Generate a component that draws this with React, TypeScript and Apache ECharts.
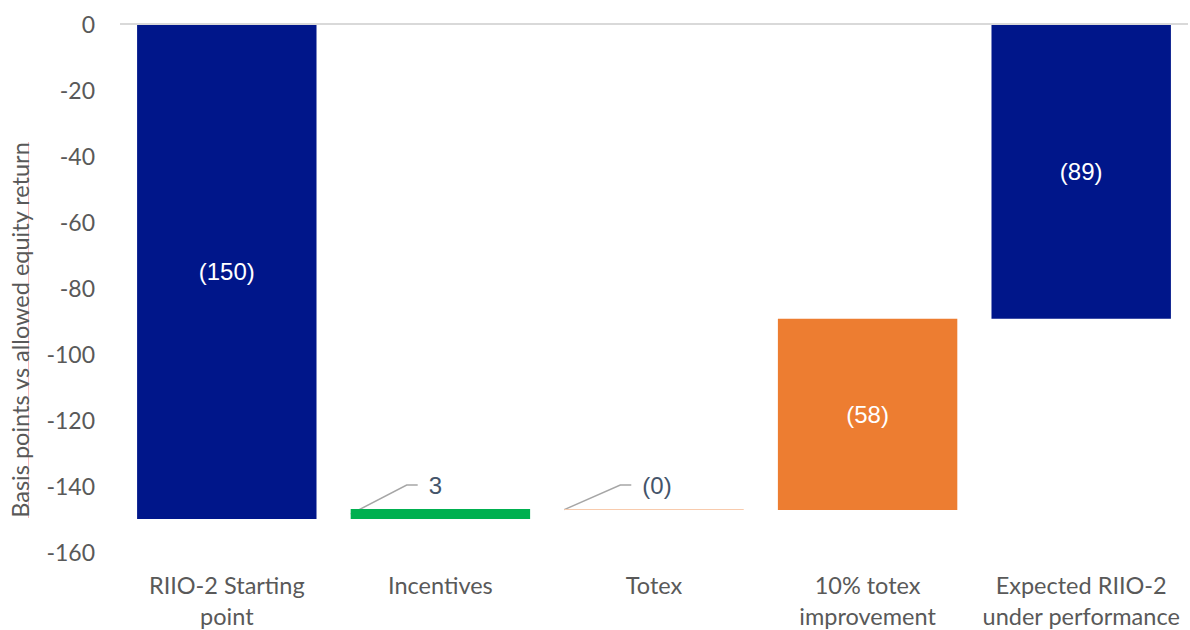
import React, { useEffect, useRef } from "react";
import * as echarts from "echarts";

const categories = [
  "RIIO-2 Starting\npoint",
  "Incentives",
  "Totex",
  "10% totex\nimprovement",
  "Expected RIIO-2\nunder performance",
];
const startValue = -150;
const stepValues = [3, -0.3, 58];
const dataLabels = ["(150)", "3", "(0)", "(58)", "(89)"];
const barColors = ["#00168A", "#00B050", "#F8CBAD", "#ED7D31", "#00168A"];
const yTicks = { min: -160, max: 0, interval: 20 };
const yTitle = "Basis points vs allowed equity return";
const outsideLabelIdx = [1, 2];

export default function App() {
  const ref = useRef<HTMLDivElement>(null);
  useEffect(() => {
    document.documentElement.style.margin = "0";
    document.documentElement.style.overflow = "hidden";
    document.body.style.margin = "0";
    document.body.style.overflow = "hidden";
    const chart = echarts.init(ref.current!, null, { renderer: "svg" });

    // waterfall bases and visible parts
    const levels: number[] = [startValue];
    stepValues.forEach((s) => levels.push(levels[levels.length - 1] + s));
    const endValue = levels[levels.length - 1];
    const bases: number[] = [];
    const visible: number[] = [];
    bases.push(0);
    visible.push(startValue);
    for (let i = 0; i < stepValues.length; i++) {
      const prev = levels[i];
      const next = levels[i + 1];
      const hi = Math.max(prev, next);
      const lo = Math.min(prev, next);
      bases.push(hi);
      visible.push(lo - hi);
    }
    bases.push(0);
    visible.push(endValue);

    const axisFont = "Lato";
    const labelFont = "'Liberation Sans', Arial, sans-serif";

    chart.setOption({
      animation: false,
      grid: { left: 120, right: 2, top: 24, bottom: 78, outerBoundsMode: "none", containLabel: false },
      xAxis: {
        type: "category",
        data: categories,
        axisLine: { show: false },
        axisTick: { show: false },
        axisLabel: {
          interval: 0,
          color: "#595959",
          fontFamily: axisFont,
          fontSize: 23.5,
          lineHeight: 31,
          margin: 17,
        },
      },
      yAxis: {
        type: "value",
        min: yTicks.min,
        max: yTicks.max,
        interval: yTicks.interval,
        axisLine: { show: false },
        axisTick: { show: false },
        splitLine: { show: false },
        axisLabel: {
          color: "#595959",
          fontFamily: axisFont,
          fontSize: 23,
          margin: 25,
        },
      },
      series: [
        {
          type: "bar",
          stack: "wf",
          barWidth: "84%",
          data: bases,
          itemStyle: { color: "transparent" },
          silent: true,
          markLine: {
            silent: true,
            symbol: "none",
            label: { show: false },
            lineStyle: { color: "#D9D9D9", width: 2, type: "solid" },
            data: [{ yAxis: 0 }],
          },
        },
        {
          type: "bar",
          stack: "wf",
          barWidth: "84%",
          data: visible.map((v, i) => {
            const outside = outsideLabelIdx.indexOf(i) >= 0;
            return {
              value: v,
              itemStyle: { color: barColors[i] },
              label: outside
                ? {
                    show: true,
                    position: [78, -24],
                    align: "left",
                    verticalAlign: "middle",
                    color: "#44546A",
                    fontFamily: labelFont,
                    fontSize: 24,
                    formatter: () => dataLabels[i],
                  }
                : {
                    show: true,
                    position: "inside",
                    color: "#FFFFFF",
                    fontFamily: labelFont,
                    fontSize: 24,
                    formatter: () => dataLabels[i],
                  },
            };
          }),
        },
      ],
    });

    // leader lines for outside labels, positioned via the chart's own scales
    const graphics: any[] = [];
    const c0 = chart.convertToPixel({ xAxisIndex: 0 }, 0) as number;
    const c1 = chart.convertToPixel({ xAxisIndex: 0 }, 1) as number;
    const bw = (c1 - c0) * 0.84;
    outsideLabelIdx.forEach((i) => {
      const cx = chart.convertToPixel({ xAxisIndex: 0 }, i) as number;
      const left = cx - bw / 2;
      const yTop = chart.convertToPixel({ yAxisIndex: 0 }, bases[i]) as number;
      const yBot = chart.convertToPixel({ yAxisIndex: 0 }, bases[i] + visible[i]) as number;
      const yMid = (yTop + yBot) / 2;
      const ly = yTop - 24;
      graphics.push({
        type: "polyline",
        shape: { points: [[left, yMid], [left + 56, ly], [left + 67, ly]] },
        style: { stroke: "#A6A6A6", lineWidth: 1.5, fill: null },
        silent: true,
      });
    });
    graphics.push({
      type: "line",
      shape: { x1: 28.5, y1: 142, x2: 28.5, y2: 518 },
      style: { stroke: "#F6B8B8", lineWidth: 1 },
      silent: true,
    });
    graphics.push({
      type: "text",
      x: 20,
      y: 330,
      rotation: Math.PI / 2,
      style: {
        text: yTitle,
        fill: "#595959",
        font: "23.5px Lato",
        align: "center",
        verticalAlign: "middle",
      },
    });
    chart.setOption({ graphic: graphics });

    return () => chart.dispose();
  }, []);
  return (
    <div
      ref={ref}
      style={{ position: "absolute", left: 0, top: 0, width: 1190, height: 630, display: "block" }}
    />
  );
}
